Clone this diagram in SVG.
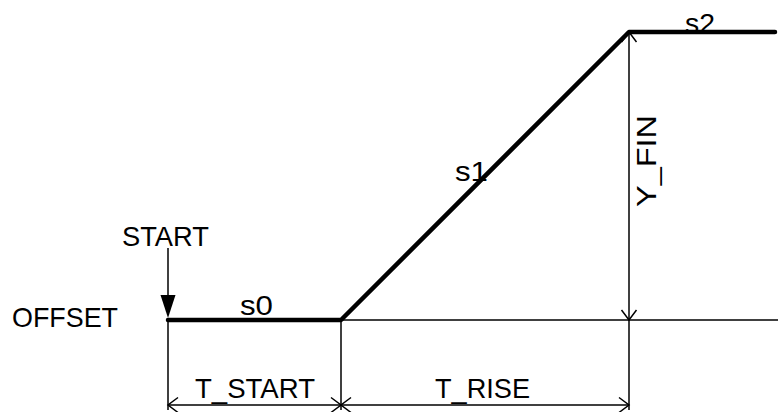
<svg xmlns="http://www.w3.org/2000/svg" width="778" height="412" viewBox="0 0 778 412">
<style>
.t{font-family:"Liberation Sans",Arial,sans-serif;font-size:28.5px;fill:#000}
.thin{stroke:#000;stroke-width:1.5;fill:none}
.thick{stroke:#000;stroke-width:4.5;fill:none;stroke-linecap:round;stroke-linejoin:round}
</style>
<defs>
<marker id="open" viewBox="-12 -9 14 18" markerWidth="14" markerHeight="18" refX="0" refY="0" orient="auto-start-reverse" markerUnits="userSpaceOnUse">
<path d="M-10,-7.5 L0,0 L-10,7.5" fill="none" stroke="#000" stroke-width="1.5"/>
</marker>
</defs>
<rect width="778" height="412" fill="#fff"/>
<g id="axes">
<line class="thin" x1="341" y1="320" x2="778" y2="320"/>
<line class="thin" x1="168" y1="320" x2="168" y2="410"/>
<line class="thin" x1="341" y1="320" x2="341" y2="410"/>
<line class="thin" x1="629" y1="320" x2="629" y2="410"/>
</g>
<g id="connectors">
<line class="thin" x1="168" y1="405" x2="341" y2="405" marker-start="url(#open)" marker-end="url(#open)"/>
<line class="thin" x1="341" y1="405" x2="629" y2="405" marker-start="url(#open)" marker-end="url(#open)"/>
<line class="thin" x1="629" y1="32" x2="629" y2="320" marker-start="url(#open)" marker-end="url(#open)"/>
<line class="thin" x1="168" y1="248" x2="168" y2="296"/>
<polygon points="160.5,295 175.5,295 168,318" fill="#000"/>
</g>
<g id="profile">
<polyline class="thick" points="168,320 341,320 629,32 775,32"/>
</g>
<g id="labels">
<text class="t" x="122" y="246" textLength="87" lengthAdjust="spacingAndGlyphs">START</text>
<text class="t" x="12" y="327" textLength="106" lengthAdjust="spacingAndGlyphs">OFFSET</text>
<text class="t" x="240" y="315" textLength="33" lengthAdjust="spacingAndGlyphs">s0</text>
<text class="t" x="455" y="181" textLength="33" lengthAdjust="spacingAndGlyphs">s1</text>
<text class="t" x="685" y="33" textLength="30" lengthAdjust="spacingAndGlyphs">s2</text>
<text class="t" x="195" y="398" textLength="120" lengthAdjust="spacingAndGlyphs">T_START</text>
<text class="t" x="435" y="398" textLength="95" lengthAdjust="spacingAndGlyphs">T_RISE</text>
<text class="t" transform="translate(656,207) rotate(-90)" textLength="92" lengthAdjust="spacingAndGlyphs">Y_FIN</text>
</g>
</svg>
